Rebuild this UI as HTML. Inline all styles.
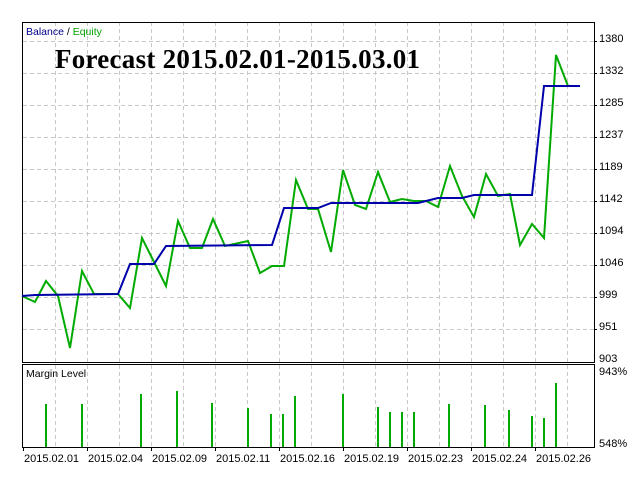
<!DOCTYPE html>
<html><head><style>
html,body{margin:0;padding:0;background:#fff;}
svg{display:block;font-family:"Liberation Sans",sans-serif;}
</style></head><body>
<svg width="640" height="480" viewBox="0 0 640 480" xmlns="http://www.w3.org/2000/svg">
<rect width="640" height="480" fill="#fff"/>
<g stroke="#c8c8c8" stroke-width="1" stroke-dasharray="4,3" fill="none">
<path d="M55.5 22V362M87.5 22V362M119.5 22V362M151.5 22V362M183.5 22V362M215.5 22V362M247.5 22V362M279.5 22V362M311.5 22V362M343.5 22V362M375.5 22V362M407.5 22V362M439.5 22V362M471.5 22V362M503.5 22V362M535.5 22V362M567.5 22V362"/>
<path d="M55.5 365V447M87.5 365V447M119.5 365V447M151.5 365V447M183.5 365V447M215.5 365V447M247.5 365V447M279.5 365V447M311.5 365V447M343.5 365V447M375.5 365V447M407.5 365V447M439.5 365V447M471.5 365V447M503.5 365V447M535.5 365V447M567.5 365V447"/>
<path d="M23 41.5H594M23 73.5H594M23 105.5H594M23 137.5H594M23 169.5H594M23 201.5H594M23 233.5H594M23 265.5H594M23 297.5H594M23 329.5H594"/>
</g>
<rect x="22.5" y="22.5" width="572" height="340" fill="none" stroke="#000"/>
<rect x="22.5" y="364.5" width="572" height="83" fill="none" stroke="#000"/>
<g font-size="11" fill="#000">
<text x="599" y="42">1380</text><text x="599" y="74">1332</text><text x="599" y="106">1285</text>
<text x="599" y="138">1237</text><text x="599" y="170">1189</text><text x="599" y="202">1142</text>
<text x="599" y="234">1094</text><text x="599" y="266">1046</text><text x="599" y="298">999</text>
<text x="599" y="330">951</text><text x="599" y="362">903</text>
<text x="599" y="375">943%</text><text x="599" y="447">548%</text>
</g>
<g stroke="#000"><path d="M594 41.5h3M594 73.5h3M594 105.5h3M594 137.5h3M594 169.5h3M594 201.5h3M594 233.5h3M594 265.5h3M594 297.5h3M594 329.5h3M23.5 447v4M87.5 447v4M151.5 447v4M215.5 447v4M279.5 447v4M343.5 447v4M407.5 447v4M471.5 447v4M535.5 447v4"/></g>
<g font-size="11" fill="#000">
<text x="24" y="462">2015.02.01</text><text x="88" y="462">2015.02.04</text><text x="152" y="462">2015.02.09</text>
<text x="216" y="462">2015.02.11</text><text x="280" y="462">2015.02.16</text><text x="344" y="462">2015.02.19</text>
<text x="408" y="462">2015.02.23</text><text x="472" y="462">2015.02.24</text><text x="536" y="462">2015.02.26</text>
</g>
<text x="26" y="35" font-size="10.5"><tspan fill="#00008b">Balance</tspan><tspan fill="#000"> / </tspan><tspan fill="#00a000">Equity</tspan></text>
<text x="26" y="377" font-size="10.5" fill="#000">Margin Level</text>
<text x="55" y="68" font-family="Liberation Serif,serif" font-weight="bold" font-size="27" textLength="365" fill="#000">Forecast 2015.02.01-2015.03.01</text>
<polyline fill="none" stroke="#00aa00" stroke-width="2" stroke-linejoin="miter" points="22,296 35,302 46,281 58,296 70,348 82,271 94,294 118,294 130,308 142,238 154,262 166,286 178,221 190,248 202,248 213,219 225,246 248,241 260,273 272,266 284,266 296,180 308,209 318,209 331,252 343,170 355,205 366,209 378,172 390,202 402,199 414,201 426,201 438,207 450,166 462,196 474,217 486,174 498,196 510,194 520,245 532,224 544,238 556,55 568,86 580,86"/>
<polyline fill="none" stroke="#0000aa" stroke-width="2" points="22,296 35,295 118,294 130,264 154,264 166,246 272,245 284,208 318,208 331,203 418,203 426,201 438,198 462,198 474,195 532,195 544,86 580,86"/>
<g fill="#00aa00">
<rect x="45" y="404" width="2" height="43"/><rect x="81" y="404" width="2" height="43"/><rect x="140" y="394" width="2" height="53"/>
<rect x="176" y="391" width="2" height="56"/><rect x="211" y="403" width="2" height="44"/><rect x="247" y="408" width="2" height="39"/>
<rect x="270" y="414" width="2" height="33"/><rect x="282" y="414" width="2" height="33"/><rect x="294" y="396" width="2" height="51"/>
<rect x="342" y="394" width="2" height="53"/><rect x="377" y="407" width="2" height="40"/><rect x="389" y="412" width="2" height="35"/>
<rect x="401" y="412" width="2" height="35"/><rect x="413" y="412" width="2" height="35"/><rect x="448" y="404" width="2" height="43"/>
<rect x="484" y="405" width="2" height="42"/><rect x="508" y="410" width="2" height="37"/><rect x="531" y="416" width="2" height="31"/>
<rect x="543" y="418" width="2" height="29"/><rect x="555" y="383" width="2" height="64"/>
</g>
</svg>
</body></html>
